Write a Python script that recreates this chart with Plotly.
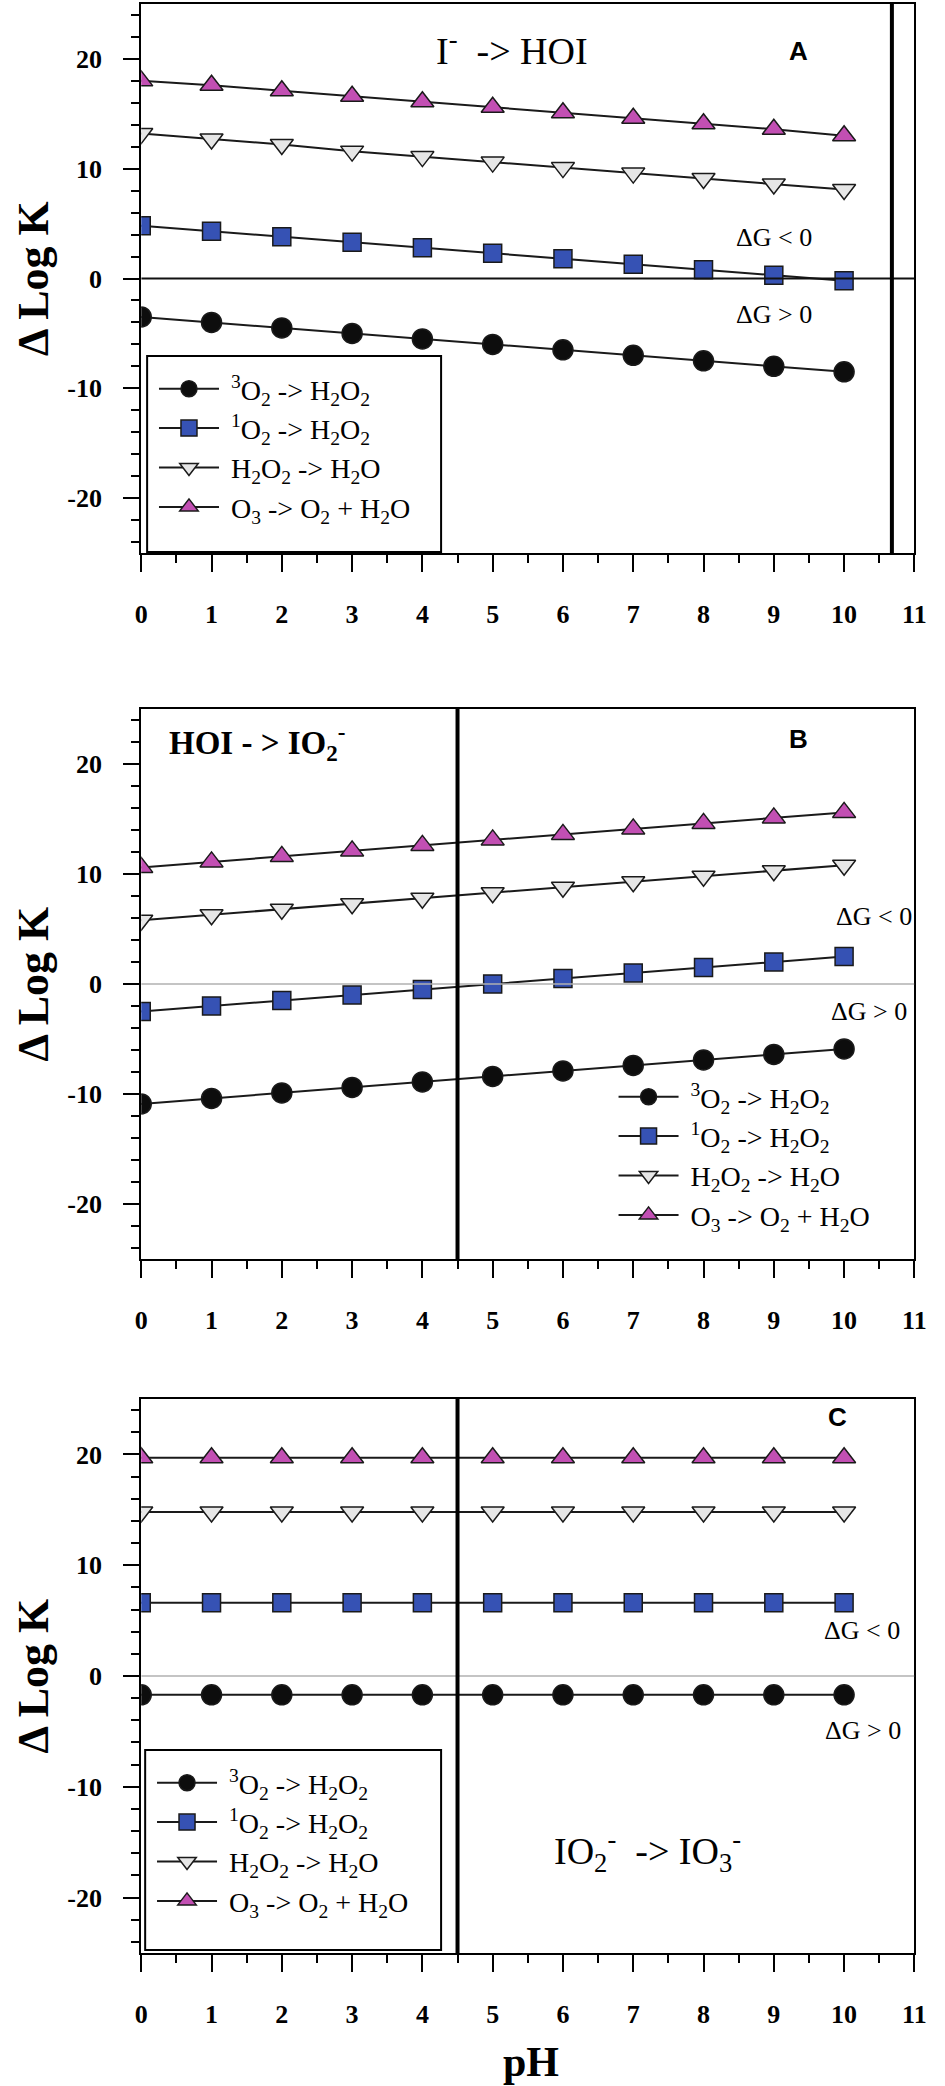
import plotly.graph_objects as go

# ---------------- data ----------------
ph = [0, 1, 2, 3, 4, 5, 6, 7, 8, 9, 10]

series_names = [
    "\u00a0<sup>3</sup>O<sub>2</sub> -&gt; H<sub>2</sub>O<sub>2</sub>",
    "\u00a0<sup>1</sup>O<sub>2</sub> -&gt; H<sub>2</sub>O<sub>2</sub>",
    "\u00a0H<sub>2</sub>O<sub>2</sub> -&gt; H<sub>2</sub>O",
    "\u00a0O<sub>3</sub> -&gt; O<sub>2</sub> + H<sub>2</sub>O",
]

# Panel A: I- -> HOI
A_3O2 = [-3.5, -4.0, -4.5, -5.0, -5.5, -6.0, -6.5, -7.0, -7.5, -8.0, -8.5]
A_1O2 = [4.8, 4.3, 3.8, 3.3, 2.8, 2.3, 1.8, 1.3, 0.8, 0.3, -0.2]
A_H2O2 = [13.2, 12.7, 12.2, 11.6, 11.1, 10.6, 10.1, 9.6, 9.1, 8.6, 8.1]
A_O3 = [18.0, 17.6, 17.1, 16.6, 16.1, 15.6, 15.1, 14.6, 14.1, 13.6, 13.0]

# Panel B: HOI -> IO2-
B_3O2 = [-10.9, -10.4, -9.9, -9.4, -8.9, -8.4, -7.9, -7.4, -6.9, -6.4, -5.9]
B_1O2 = [-2.5, -2.0, -1.5, -1.0, -0.5, 0.0, 0.5, 1.0, 1.5, 2.0, 2.5]
B_H2O2 = [5.8, 6.3, 6.8, 7.3, 7.8, 8.3, 8.8, 9.3, 9.8, 10.3, 10.8]
B_O3 = [10.6, 11.1, 11.6, 12.1, 12.6, 13.1, 13.6, 14.1, 14.6, 15.1, 15.6]

# Panel C: IO2- -> IO3-
C_3O2 = [-1.7, -1.7, -1.7, -1.7, -1.7, -1.7, -1.7, -1.7, -1.7, -1.7, -1.7]
C_1O2 = [6.6, 6.6, 6.6, 6.6, 6.6, 6.6, 6.6, 6.6, 6.6, 6.6, 6.6]
C_H2O2 = [14.8, 14.8, 14.8, 14.8, 14.8, 14.8, 14.8, 14.8, 14.8, 14.8, 14.8]
C_O3 = [19.7, 19.7, 19.7, 19.7, 19.7, 19.7, 19.7, 19.7, 19.7, 19.7, 19.7]

panel_series = [
    [A_3O2, A_1O2, A_H2O2, A_O3],
    [B_3O2, B_1O2, B_H2O2, B_O3],
    [C_3O2, C_1O2, C_H2O2, C_O3],
]
panel_letters = ["A", "B", "C"]
panel_titles = [
    "I<sup>-</sup>  -&gt; HOI",
    "HOI - &gt; IO<sub>2</sub><sup>-</sup>",
    "IO<sub>2</sub><sup>-</sup>  -&gt; IO<sub>3</sub><sup>-</sup>",
]
boundary_ph = [10.68, 4.5, 4.5]
x_ticks = [0, 1, 2, 3, 4, 5, 6, 7, 8, 9, 10, 11]
x_tick_labels = ["0", "1", "2", "3", "4", "5", "6", "7", "8", "9", "10", "11"]
y_ticks = [-20, -10, 0, 10, 20]
y_tick_labels = ["-20", "-10", "0", "10", "20"]

# ---------------- style ----------------
W, H = 945, 2086
SERIF = "Liberation Serif"
SANS = "Liberation Sans"
symbols = ["circle", "square", "triangle-down", "triangle-up"]
fills = ["#0d0d0d", "#3652b4", "#e6e6e6", "#c24fb3"]
sizes = [20, 18, 20, 20]

ydomains = [
    [1 - 553 / H, 1 - 4 / H],
    [1 - 1259 / H, 1 - 709 / H],
    [1 - 1953 / H, 1 - 1399 / H],
]
xdomain = [137 / W, 926 / W]
legend_ids = ["legend", "legend2", "legend3"]
zero_colors = ["#111111", "#b0b0b0", "#b0b0b0"]

fig = go.Figure()

for p in range(3):
    xa = "x" if p == 0 else f"x{p + 1}"
    ya = "y" if p == 0 else f"y{p + 1}"
    for s in range(4):
        fig.add_trace(go.Scatter(
            x=ph, y=panel_series[p][s], mode="lines+markers",
            name=series_names[s], xaxis=xa, yaxis=ya,
            legend=legend_ids[p],
            line=dict(color="#1a1a1a", width=2),
            marker=dict(symbol=symbols[s], size=sizes[s], color=fills[s],
                        line=dict(color="#1a1a1a", width=1.5)),
        ))

layout = dict(
    width=W, height=H, margin=dict(l=0, r=0, t=0, b=0),
    paper_bgcolor="white", plot_bgcolor="white",
    showlegend=True,
)

tickfont = dict(family=SERIF, size=26, color="black", weight="bold")
for p in range(3):
    xk = "xaxis" if p == 0 else f"xaxis{p + 1}"
    yk = "yaxis" if p == 0 else f"yaxis{p + 1}"
    ya = "y" if p == 0 else f"y{p + 1}"
    xa = "x" if p == 0 else f"x{p + 1}"
    layout[xk] = dict(
        domain=xdomain, anchor=ya, range=[0, 11],
        tickmode="array", tickvals=x_ticks, ticktext=x_tick_labels,
        ticks="outside", ticklen=17, tickwidth=2, tickcolor="black",
        minor=dict(dtick=0.5, tick0=0, ticks="outside", ticklen=8,
                   tickwidth=2, tickcolor="black"),
        showline=True, linewidth=2, linecolor="black", mirror=True,
        showgrid=False, zeroline=False, tickfont=tickfont,
        ticklabelstandoff=20,
    )
    layout[yk] = dict(
        domain=ydomains[p], anchor=xa, range=[-25, 25],
        tickmode="array", tickvals=y_ticks, ticktext=y_tick_labels,
        ticks="outside", ticklen=16, tickwidth=2, tickcolor="black",
        minor=dict(dtick=2, tick0=0, ticks="outside", ticklen=8,
                   tickwidth=2, tickcolor="black"),
        showline=True, linewidth=2, linecolor="black", mirror=True,
        showgrid=False, zeroline=False, tickfont=tickfont,
        ticklabelstandoff=16,
    )

legend_font = dict(family=SERIF, size=28, color="black")
legend_pos = [(150 / W, 1 - 364 / H), (619 / W, 1 - 1072 / H), (148 / W, 1 - 1758 / H)]
for p in range(3):
    layout[legend_ids[p]] = dict(
        x=legend_pos[p][0], y=legend_pos[p][1], xanchor="left", yanchor="top",
        xref="paper", yref="paper",
        bgcolor="rgba(0,0,0,0)", borderwidth=0,
        font=legend_font, itemwidth=60, tracegroupgap=0,
    )

fig.update_layout(**layout)

shapes = []
annotations = []
for p in range(3):
    xa = "x" if p == 0 else f"x{p + 1}"
    ya = "y" if p == 0 else f"y{p + 1}"
    # zero (ΔG = 0) line
    shapes.append(dict(type="line", xref=xa, yref=ya, x0=0, x1=11, y0=0, y1=0,
                       line=dict(color=zero_colors[p], width=2 if p == 0 else 1.5)))
    # pKa boundary line
    shapes.append(dict(type="line", xref=xa, yref=ya,
                       x0=boundary_ph[p], x1=boundary_ph[p], y0=-25, y1=25,
                       line=dict(color="black", width=4)))

# legend frames (A and C)
shapes.append(dict(type="rect", xref="paper", yref="paper",
                   x0=143 / W, x1=443 / W, y0=1 - 552 / H, y1=1 - 356 / H,
                   line=dict(color="black", width=2)))
shapes.append(dict(type="rect", xref="paper", yref="paper",
                   x0=141 / W, x1=443 / W, y0=1 - 1950 / H, y1=1 - 1750 / H,
                   line=dict(color="black", width=2)))

title_pos = [(4.16, 21.0), (0.36, 22.0), (5.84, -15.8)]
title_sizes = [38, 33, 38]
title_weights = ["normal", "bold", "normal"]
letter_pos = [(9.35, 20.7), (9.35, 22.3), (9.9, 23.4)]
dg_neg_pos = [(9.0, 3.7), (10.43, 6.1), (10.26, 4.1)]
dg_pos_pos = [(9.0, -3.3), (10.36, -2.5), (10.27, -4.9)]

for p in range(3):
    xa = "x" if p == 0 else f"x{p + 1}"
    ya = "y" if p == 0 else f"y{p + 1}"
    tx, ty = title_pos[p]
    annotations.append(dict(xref=xa, yref=ya, x=tx, y=ty, xanchor="left", yanchor="middle",
                            text=panel_titles[p], showarrow=False,
                            font=dict(family=SERIF, size=title_sizes[p], color="black",
                                      weight=title_weights[p])))
    lx, ly = letter_pos[p]
    annotations.append(dict(xref=xa, yref=ya, x=lx, y=ly, text=panel_letters[p],
                            xanchor="center", yanchor="middle", showarrow=False,
                            font=dict(family=SANS, size=26, color="black", weight="bold")))
    annotations.append(dict(xref=xa, yref=ya, x=dg_neg_pos[p][0], y=dg_neg_pos[p][1],
                            text="ΔG &lt; 0", xanchor="center", yanchor="middle",
                            showarrow=False,
                            font=dict(family=SERIF, size=26, color="black")))
    annotations.append(dict(xref=xa, yref=ya, x=dg_pos_pos[p][0], y=dg_pos_pos[p][1],
                            text="ΔG &gt; 0", xanchor="center", yanchor="middle",
                            showarrow=False,
                            font=dict(family=SERIF, size=26, color="black")))
    # y-axis title
    annotations.append(dict(xref="paper", yref="paper", x=27 / W,
                            y=(ydomains[p][0] + ydomains[p][1]) / 2,
                            xanchor="center", yanchor="middle",
                            text="Δ Log K", textangle=-90, showarrow=False,
                            font=dict(family=SERIF, size=44, color="black", weight="bold")))

annotations.append(dict(xref="paper", yref="paper", x=535 / W, y=1 - 2062 / H,
                        xanchor="center", yanchor="middle",
                        text="pH", showarrow=False,
                        font=dict(family=SERIF, size=42, color="black", weight="bold")))

fig.update_layout(shapes=shapes, annotations=annotations)

fig.write_html("out.html", config={"displayModeBar": False},
               post_script="document.body.style.margin='0px';")
